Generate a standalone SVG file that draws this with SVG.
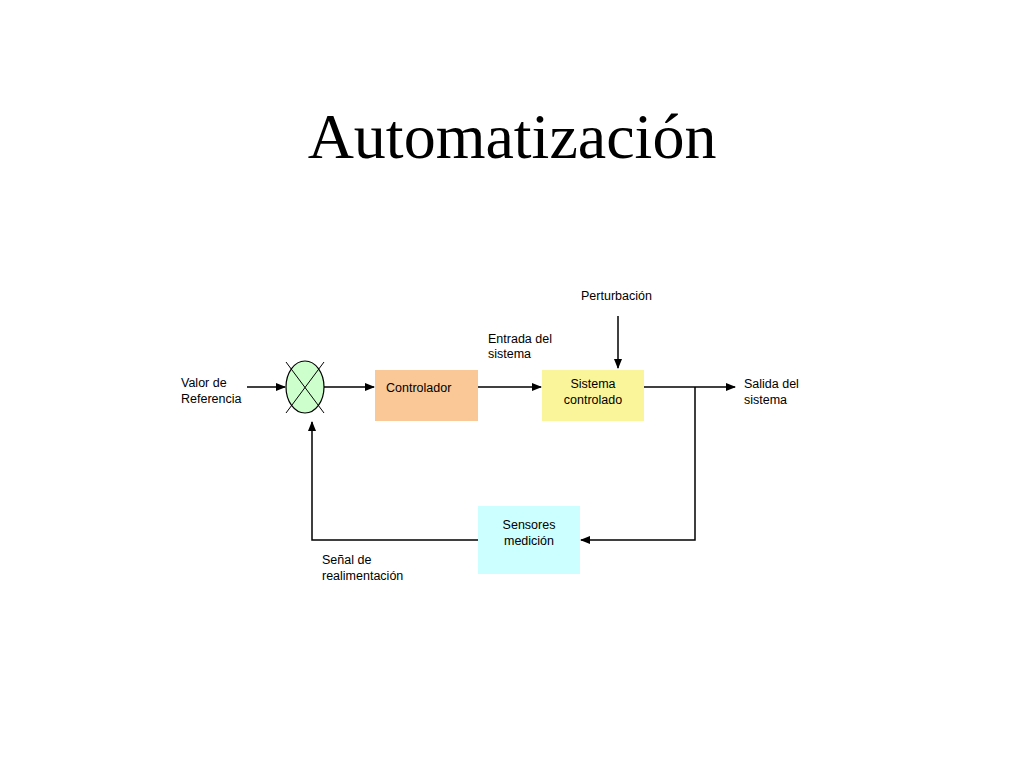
<svg xmlns="http://www.w3.org/2000/svg" width="1024" height="768" viewBox="0 0 1024 768">
<style>
text{font-family:"Liberation Sans",Arial,sans-serif;font-size:12.5px;fill:#000}
.t{font-family:"Liberation Serif","Times New Roman",serif;font-size:64px}
.c{text-anchor:middle}
.l{stroke:#000;stroke-width:1.5;fill:none}
</style>
<defs><marker id="a" markerWidth="10" markerHeight="8" refX="9" refY="4" orient="auto" markerUnits="userSpaceOnUse"><path d="M0,0L10,4L0,8z" fill="#000"/></marker></defs>
<rect width="1024" height="768" fill="#fff"/>
<text class="t c" x="512" y="158">Automatización</text>
<g id="sum"><ellipse cx="305" cy="387" rx="19" ry="26" fill="#CCFFCC" stroke="#000" stroke-width="1.2"/><line x1="286" y1="362" x2="324" y2="413" stroke="#000"/><line x1="324" y1="362" x2="286" y2="413" stroke="#000"/></g>
<g id="controlador"><rect x="375" y="370" width="103" height="51" fill="#F9C896"/><text x="386" y="392">Controlador</text></g>
<g id="sistema"><rect x="542" y="370" width="102" height="51" fill="#FAF59A"/><text class="c" x="593" y="388">Sistema</text><text class="c" x="593" y="404">controlado</text></g>
<g id="sensores"><rect x="478" y="506" width="102" height="68" fill="#CCFFFF"/><text class="c" x="529" y="529">Sensores</text><text class="c" x="529" y="545">medición</text></g>
<g id="connectors">
<line class="l" x1="247" y1="387" x2="285" y2="387" marker-end="url(#a)"/>
<line class="l" x1="324" y1="387" x2="374" y2="387" marker-end="url(#a)"/>
<line class="l" x1="478" y1="387" x2="541" y2="387" marker-end="url(#a)"/>
<line class="l" x1="618" y1="316" x2="618" y2="368" marker-end="url(#a)"/>
<line class="l" x1="644" y1="387" x2="735" y2="387" marker-end="url(#a)"/>
<polyline class="l" points="695,387 695,540 581,540" marker-end="url(#a)"/>
<polyline class="l" points="478,540 312,540 312,422" marker-end="url(#a)"/>
</g>
<text x="181" y="387">Valor de</text><text x="181" y="403">Referencia</text>
<text x="581" y="300">Perturbación</text>
<text x="488" y="343">Entrada del</text><text x="488" y="358">sistema</text>
<text x="744" y="388">Salida del</text><text x="744" y="404">sistema</text>
<text x="322" y="564">Señal de</text><text x="322" y="580">realimentación</text>
</svg>
